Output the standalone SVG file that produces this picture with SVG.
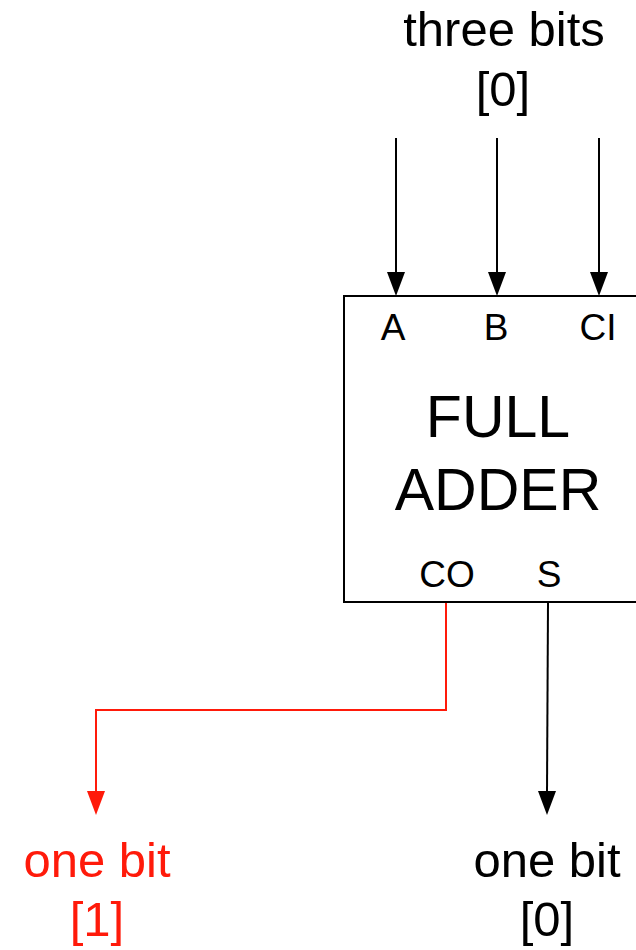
<svg xmlns="http://www.w3.org/2000/svg" width="636" height="950" viewBox="0 0 636 950">
<style>
text{font-family:"Liberation Sans",Arial,sans-serif;text-anchor:middle;fill:#000}
.lbl{font-size:49px}
.port{font-size:37px}
.big{font-size:59px}
.red{fill:#ff1a0a}
.wire{fill:none;stroke:#000;stroke-width:2}
.rwire{fill:none;stroke:#ff1a0a;stroke-width:2}
</style>
<g id="input-label">
<text class="lbl" x="504" y="46">three bits</text>
<text class="lbl" x="503" y="106">[0]</text>
</g>
<g id="full-adder">
<rect x="344" y="296" width="310" height="306" fill="#fff" stroke="#000" stroke-width="2"/>
<text class="port" x="393" y="340">A</text>
<text class="port" x="496" y="340">B</text>
<text class="port" x="598" y="340">CI</text>
<text class="big" x="498" y="437">FULL</text>
<text class="big" x="498" y="510">ADDER</text>
<text class="port" x="447" y="587">CO</text>
<text class="port" x="549" y="587">S</text>
</g>
<g id="out-carry">
<text class="lbl red" x="97" y="877">one bit</text>
<text class="lbl red" x="97" y="936">[1]</text>
</g>
<g id="out-sum">
<text class="lbl" x="547" y="877">one bit</text>
<text class="lbl" x="547" y="936">[0]</text>
</g>
<g id="connectors">
<path class="wire" d="M396,138 L396,272" />
<path d="M387,272 L405,272 L396,296 Z" fill="#000"/>
<path class="wire" d="M497,138 L497,272" />
<path d="M488,272 L506,272 L497,296 Z" fill="#000"/>
<path class="wire" d="M599,138 L599,272" />
<path d="M590,272 L608,272 L599,296 Z" fill="#000"/>
<path class="rwire" d="M446,603 L446,710 L96,710 L96,792" />
<path d="M87,791 L105,791 L96,815 Z" fill="#ff1a0a"/>
<path class="wire" d="M548,603 L547,792" />
<path d="M538,791 L556,791 L547,815 Z" fill="#000"/>
</g>
</svg>
